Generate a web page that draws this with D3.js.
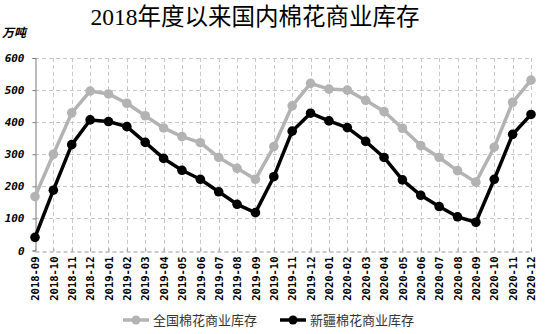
<!DOCTYPE html>
<html>
<head>
<meta charset="utf-8">
<script src="https://cdn.jsdelivr.net/npm/d3@7"></script>
<style>
  html, body { margin: 0; padding: 0; background: #fff; }
  svg { display: block; }
</style>
</head>
<body>
<svg id="chart" width="548" height="334"></svg>
<script>
// Monthly commercial cotton stocks (10k tonnes)
const months = [
  "2018-09","2018-10","2018-11","2018-12",
  "2019-01","2019-02","2019-03","2019-04","2019-05","2019-06",
  "2019-07","2019-08","2019-09","2019-10","2019-11","2019-12",
  "2020-01","2020-02","2020-03","2020-04","2020-05","2020-06",
  "2020-07","2020-08","2020-09","2020-10","2020-11","2020-12"
];
const nationalStock = [
  168, 300, 429, 497, 488, 459, 420, 382, 355, 336,
  290, 256, 222, 324, 451, 521, 503, 500, 468, 433,
  381, 327, 290, 249, 213, 322, 462, 531
];
const xinjiangStock = [
  41, 188, 330, 407, 402, 386, 337, 287, 250, 222,
  183, 144, 118, 230, 372, 428, 404, 383, 340, 290,
  220, 172, 137, 105, 88, 222, 362, 424
];
const yTicks = [0, 100, 200, 300, 400, 500, 600];
const seriesNames = ["全国棉花商业库存", "新疆棉花商业库存"];
const seriesColors = ["#b3b3b3", "#000000"];

const svg = d3.select("#chart");
const plotLeft = 35, plotRight = 531, plotTop = 58, plotBottom = 250.5;

const x = d3.scalePoint().domain(months).range([plotLeft, plotRight]);
const y = d3.scaleLinear().domain([0, 600]).range([plotBottom, plotTop]);

// Title
svg.append("text")
  .attr("x", 255).attr("y", 25)
  .attr("text-anchor", "middle")
  .attr("font-family", "'Liberation Serif','Noto Sans CJK SC',serif")
  .attr("font-size", 23.5)
  .attr("fill", "#000")
  .text("2018年度以来国内棉花商业库存");

// Unit label
svg.append("text")
  .attr("x", 2).attr("y", 37)
  .attr("font-family", "'Noto Sans CJK SC',sans-serif")
  .attr("font-size", 12)
  .attr("font-weight", "bold")
  .attr("font-style", "italic")
  .attr("fill", "#000")
  .text("万吨");

// Grid
const grid = svg.append("g").attr("stroke", "#c8c8c8").attr("stroke-width", 1)
  .attr("stroke-dasharray", "4,3").attr("fill", "none");
grid.selectAll("line.h").data(yTicks.filter(d => d > 0)).join("line")
  .attr("class", "h")
  .attr("x1", plotLeft).attr("x2", plotRight)
  .attr("y1", d => Math.round(y(d)) + 0.5).attr("y2", d => Math.round(y(d)) + 0.5);
grid.selectAll("line.v").data(months.slice(1)).join("line")
  .attr("class", "v")
  .attr("x1", d => Math.round(x(d)) + 0.5).attr("x2", d => Math.round(x(d)) + 0.5)
  .attr("y1", plotTop).attr("y2", plotBottom);

// Y axis
const yAxis = svg.append("g")
  .attr("transform", `translate(${plotLeft + 0.5},0)`)
  .call(d3.axisLeft(y).tickValues(yTicks).tickSize(3).tickPadding(8));
yAxis.select(".domain").attr("stroke", "#777");
yAxis.selectAll(".tick line").attr("stroke", "#777");
yAxis.selectAll(".tick text")
  .attr("font-family", "'DejaVu Sans Mono',monospace")
  .attr("font-size", 11)
  .attr("font-weight", "bold")
  .attr("font-style", "italic")
  .attr("fill", "#000");

// X axis
const xAxis = svg.append("g")
  .attr("transform", `translate(0,${Math.round(plotBottom) + 0.5})`)
  .call(d3.axisBottom(x).tickSize(3).tickSizeOuter(0));
xAxis.select(".domain").attr("stroke", "#999").attr("stroke-dasharray", "4,3");
xAxis.selectAll(".tick line").attr("stroke", "#999").attr("y2", -3);
xAxis.selectAll(".tick text")
  .attr("font-family", "'DejaVu Sans Mono',monospace")
  .attr("font-size", 10.5)
  .attr("font-weight", "bold")
  .attr("fill", "#000")
  .attr("text-anchor", "end")
  .attr("dy", "0.35em")
  .attr("transform", "translate(0,5) rotate(-90)")
  .attr("x", 0).attr("y", 0);

// Lines and markers
const line = d3.line().x((d, i) => x(months[i])).y(d => y(d));
[nationalStock, xinjiangStock].forEach((data, k) => {
  svg.append("path")
    .datum(data)
    .attr("fill", "none")
    .attr("stroke", seriesColors[k])
    .attr("stroke-width", 3.5)
    .attr("stroke-linejoin", "round")
    .attr("d", line);
  svg.append("g").selectAll("circle").data(data).join("circle")
    .attr("cx", (d, i) => x(months[i]))
    .attr("cy", d => y(d))
    .attr("r", 4.8)
    .attr("fill", seriesColors[k]);
});

// Legend
const legendX = [123, 280];
seriesNames.forEach((name, k) => {
  const g = svg.append("g").attr("transform", `translate(${legendX[k]},320)`);
  g.append("line").attr("x1", 0).attr("x2", 26).attr("y1", 0).attr("y2", 0)
    .attr("stroke", seriesColors[k]).attr("stroke-width", 3.5);
  g.append("circle").attr("cx", 13).attr("cy", 0).attr("r", 4.5).attr("fill", seriesColors[k]);
  g.append("text").attr("x", 30).attr("y", 0).attr("dy", "0.36em")
    .attr("font-family", "'Noto Sans CJK SC',sans-serif")
    .attr("font-size", 13)
    .attr("fill", "#333")
    .text(name);
});
</script>
</body>
</html>
